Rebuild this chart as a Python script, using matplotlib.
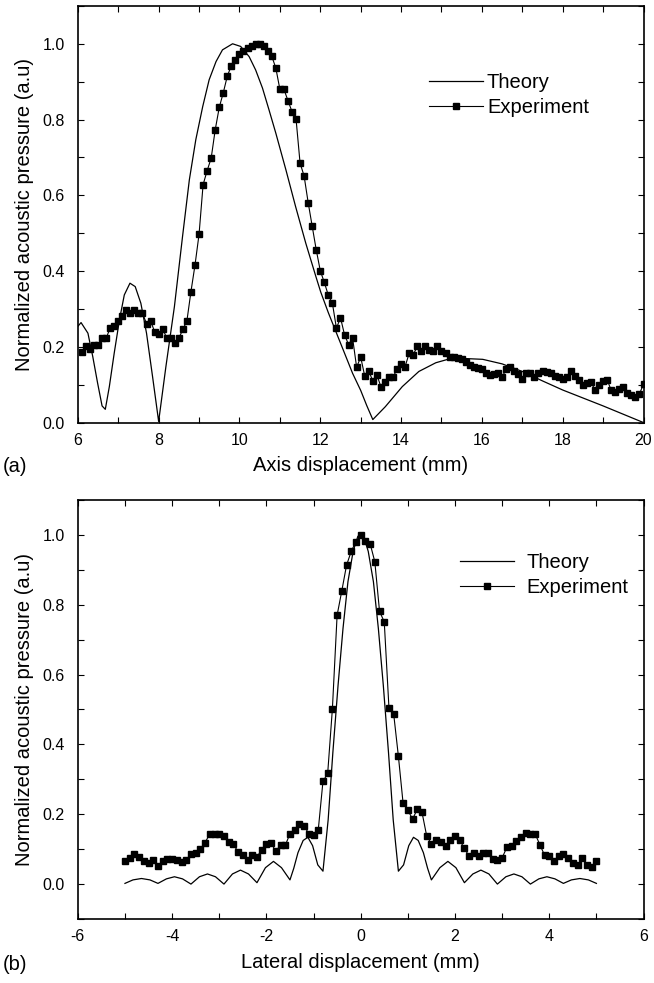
import numpy as np
import matplotlib
matplotlib.use("Agg")
import matplotlib.pyplot as plt
from matplotlib.ticker import MultipleLocator

plt.rcParams["font.family"] = ["Liberation Sans", "DejaVu Sans"]
plt.rcParams["axes.unicode_minus"] = False

# ---- (a) axial profile ----
axis_theory_x = [6.0, 6.08, 6.25, 6.37, 6.49, 6.6, 6.68, 6.78, 6.9, 7.03, 7.15, 7.29,
                 7.42, 7.56, 7.7, 7.85, 8.0, 8.18, 8.39, 8.59, 8.76, 8.92, 9.09, 9.25,
                 9.42, 9.58, 9.83, 10.03, 10.24, 10.4, 10.57, 10.73, 10.9, 11.15, 11.39,
                 11.64, 11.89, 12.01, 12.2, 12.5, 12.8, 13.0, 13.15, 13.3, 13.61, 14.03,
                 14.44, 14.86, 15.19, 15.6, 16.02, 16.5, 17.0, 17.5, 18.0, 18.5, 19.0,
                 19.5, 20.0]
axis_theory_y = [0.254, 0.264, 0.236, 0.174, 0.104, 0.044, 0.035, 0.095, 0.183, 0.271,
                 0.337, 0.368, 0.359, 0.315, 0.236, 0.121, 0.003, 0.148, 0.306, 0.49,
                 0.641, 0.747, 0.834, 0.905, 0.953, 0.984, 1.0, 0.993, 0.966, 0.931,
                 0.883, 0.826, 0.764, 0.667, 0.57, 0.474, 0.386, 0.345, 0.29, 0.21,
                 0.13, 0.085, 0.045, 0.008, 0.042, 0.095, 0.135, 0.158, 0.168, 0.169,
                 0.167, 0.155, 0.135, 0.11, 0.086, 0.065, 0.044, 0.022, 0.0]

axis_exp_x = np.linspace(6.1, 20.0, 140)
axis_exp_y = [0.186, 0.201, 0.195, 0.205, 0.205, 0.223, 0.223, 0.249, 0.255, 0.269,
              0.282, 0.298, 0.290, 0.298, 0.289, 0.289, 0.261, 0.269, 0.240, 0.234,
              0.248, 0.223, 0.223, 0.211, 0.223, 0.246, 0.269, 0.346, 0.416, 0.497,
              0.628, 0.665, 0.698, 0.773, 0.832, 0.871, 0.915, 0.942, 0.958, 0.972,
              0.980, 0.988, 0.995, 1.000, 0.999, 0.993, 0.981, 0.967, 0.936, 0.880,
              0.880, 0.850, 0.821, 0.802, 0.685, 0.651, 0.581, 0.519, 0.456, 0.401,
              0.370, 0.336, 0.315, 0.249, 0.277, 0.232, 0.206, 0.223, 0.146, 0.173,
              0.123, 0.136, 0.110, 0.126, 0.095, 0.106, 0.120, 0.120, 0.141, 0.154,
              0.148, 0.183, 0.179, 0.201, 0.188, 0.201, 0.192, 0.188, 0.201, 0.188,
              0.183, 0.174, 0.173, 0.170, 0.167, 0.161, 0.152, 0.148, 0.143, 0.141,
              0.130, 0.126, 0.128, 0.130, 0.120, 0.141, 0.148, 0.137, 0.128, 0.114,
              0.132, 0.130, 0.121, 0.130, 0.137, 0.134, 0.130, 0.123, 0.120, 0.114,
              0.120, 0.137, 0.123, 0.113, 0.100, 0.104, 0.108, 0.085, 0.100, 0.111,
              0.113, 0.085, 0.082, 0.088, 0.093, 0.079, 0.073, 0.067, 0.076, 0.102]

# ---- (b) lateral profile ----
lat_theory_x = [-5.0, -4.83, -4.65, -4.47, -4.3, -4.12, -3.95, -3.78, -3.6, -3.42,
                -3.25, -3.08, -2.9, -2.72, -2.55, -2.38, -2.2, -2.02, -1.85, -1.68,
                -1.5, -1.42, -1.33, -1.22, -1.12, -1.02, -0.91, -0.8, -0.69, -0.59,
                -0.48, -0.375, -0.27, -0.16, -0.06, 0.0, 0.06, 0.16, 0.27, 0.375,
                0.48, 0.59, 0.69, 0.8, 0.91, 1.02, 1.12, 1.22, 1.33, 1.42,
                1.5, 1.68, 1.85, 2.02, 2.2, 2.38, 2.55, 2.72, 2.9, 3.08,
                3.25, 3.42, 3.6, 3.78, 3.95, 4.12, 4.3, 4.47, 4.65, 4.83, 5.0]
lat_theory_y = [0.002, 0.012, 0.016, 0.012, 0.002, 0.015, 0.021, 0.015, 0.0, 0.021,
                0.029, 0.021, 0.0, 0.029, 0.040, 0.029, 0.004, 0.047, 0.065, 0.047,
                0.012, 0.045, 0.09, 0.125, 0.134, 0.11, 0.055, 0.037, 0.184, 0.377,
                0.569, 0.732, 0.866, 0.953, 0.996, 1.0, 0.996, 0.953, 0.866, 0.732,
                0.569, 0.377, 0.184, 0.037, 0.055, 0.11, 0.134, 0.125, 0.09, 0.045,
                0.012, 0.047, 0.065, 0.047, 0.004, 0.029, 0.040, 0.029, 0.0, 0.021,
                0.029, 0.021, 0.0, 0.015, 0.021, 0.015, 0.002, 0.012, 0.016, 0.012, 0.002]

lat_exp_x = np.linspace(-5.0, 5.0, 101)
lat_exp_y = [0.067, 0.076, 0.086, 0.078, 0.067, 0.061, 0.069, 0.052, 0.067, 0.072,
             0.073, 0.069, 0.063, 0.069, 0.086, 0.090, 0.100, 0.119, 0.144, 0.142,
             0.142, 0.138, 0.120, 0.114, 0.092, 0.083, 0.069, 0.082, 0.078, 0.098,
             0.115, 0.117, 0.094, 0.111, 0.111, 0.144, 0.155, 0.171, 0.167, 0.144,
             0.140, 0.155, 0.294, 0.317, 0.502, 0.770, 0.840, 0.913, 0.953, 0.981,
             1.000, 0.982, 0.975, 0.923, 0.781, 0.751, 0.504, 0.487, 0.366, 0.231,
             0.212, 0.186, 0.214, 0.206, 0.138, 0.115, 0.126, 0.120, 0.109, 0.125,
             0.138, 0.126, 0.102, 0.080, 0.088, 0.081, 0.088, 0.088, 0.071, 0.070,
             0.075, 0.105, 0.109, 0.124, 0.136, 0.147, 0.144, 0.144, 0.113, 0.083,
             0.081, 0.067, 0.079, 0.086, 0.075, 0.059, 0.055, 0.074, 0.055, 0.050, 0.065]

ylabel = "Normalized acoustic pressure (a.u)"


def style_axes(ax):
    for s in ax.spines.values():
        s.set_linewidth(1.2)
    ax.tick_params(which="both", direction="in", top=True, right=True,
                   length=4.5, width=0.8, labelsize=11.5)
    ax.tick_params(axis="y", pad=9.5)
    ax.tick_params(axis="x", pad=7.5)
    ax.yaxis.set_major_locator(MultipleLocator(0.2))
    ax.yaxis.set_minor_locator(MultipleLocator(0.1))
    ax.xaxis.set_major_locator(MultipleLocator(2))
    ax.xaxis.set_minor_locator(MultipleLocator(1))
    ax.yaxis.set_major_formatter(plt.FormatStrFormatter("%.1f"))
    ax.set_ylabel(ylabel, fontsize=14.5, labelpad=6)


fig = plt.figure(figsize=(6.54, 9.83), dpi=100)
ax1 = fig.add_axes([0.119, 0.5701, 0.865, 0.4239])
ax2 = fig.add_axes([0.119, 0.0651, 0.865, 0.4263])

# (a)
ax1.plot(axis_theory_x, axis_theory_y, color="black", lw=0.9, label="Theory")
ax1.plot(axis_exp_x, axis_exp_y, color="black", lw=0.8, marker="s", ms=3.9,
         label="Experiment")
ax1.set_xlim(6, 20)
ax1.set_ylim(0, 1.1)
style_axes(ax1)
ax1.set_xlabel("Axis displacement (mm)", fontsize=14.5, labelpad=6)
ax1.legend(loc="upper left", bbox_to_anchor=(0.62, 0.838), frameon=False,
           fontsize=14.5, handlelength=2.7, handletextpad=0.2, labelspacing=0.28,
           borderpad=0, borderaxespad=0, numpoints=1)

# (b)
ax2.plot(lat_theory_x, lat_theory_y, color="black", lw=0.9, label="Theory")
ax2.plot(lat_exp_x, lat_exp_y, color="black", lw=0.8, marker="s", ms=3.9,
         label="Experiment")
ax2.set_xlim(-6, 6)
ax2.set_ylim(-0.1, 1.1)
style_axes(ax2)
ax2.set_xlabel("Lateral displacement (mm)", fontsize=14.5, labelpad=6)
ax2.legend(loc="upper left", bbox_to_anchor=(0.675, 0.873), frameon=False,
           fontsize=14.5, handlelength=2.7, handletextpad=0.6, labelspacing=0.28,
           borderpad=0, borderaxespad=0, numpoints=1)

fig.text(0.004, 1 - 467 / 983, "(a)", fontsize=14.5, va="center", ha="left")
fig.text(0.004, 1 - 964 / 983, "(b)", fontsize=14.5, va="center", ha="left")

fig.savefig("out.png", dpi=100)
